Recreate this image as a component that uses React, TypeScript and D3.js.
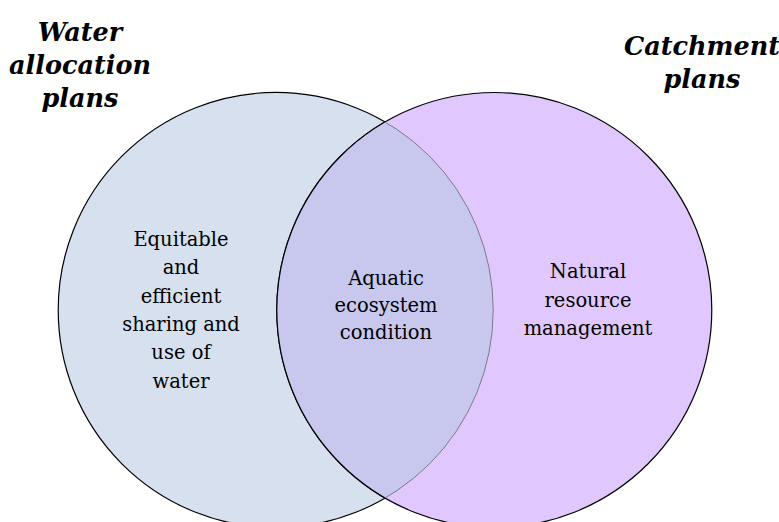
import React from 'react'
import * as d3 from 'd3'

// set titles and region texts
const leftTitle = ['Water', 'allocation', 'plans']
const rightTitle = ['Catchment', 'plans']
const leftOnly = ['Equitable', 'and', 'efficient', 'sharing and', 'use of', 'water']
const overlap = ['Aquatic', 'ecosystem', 'condition']
const rightOnly = ['Natural', 'resource', 'management']

const W = 779
const H = 522

// centres sit on one axis, distance between them in units of radius
const SEP = 1.005
const R = 217.5
const CY = 310
const MID = 385

const COL_LEFT = '#d6e0ef'
const COL_RIGHT = '#e0c8fe'
const COL_BOTH = '#c8c8ee'

const FONT = '"DejaVu Serif", serif'

function Lines({ lines, x, y, step, size, bold = false }: any) {
  return (
    <text
      x={x}
      y={y}
      textAnchor="middle"
      fontFamily={FONT}
      fontSize={size}
      fontWeight={bold ? 'bold' : 'normal'}
      fontStyle={bold ? 'italic' : 'normal'}
      fill="#000"
    >
      {lines.map((l: string, i: number) => (
        <tspan key={i} x={x} y={y + i * step}>{l}</tspan>
      ))}
    </text>
  )
}

export default function App() {
  const x = d3.scaleLinear().domain([-1, 1]).range([MID - R, MID + R])
  const cxL = x(-SEP / 2)
  const cxR = x(SEP / 2)
  const circle = (cx: number) => {
    const p = d3.path()
    p.arc(cx, CY, R, 0, Math.PI * 2)
    p.closePath()
    return p.toString()
  }
  const pL = circle(cxL)
  const pR = circle(cxR)

  return (
    <svg width={W} height={H} style={{ position: 'absolute', left: 0, top: 0, background: '#fff' }}>
      <defs>
        <clipPath id="clipL"><path d={pL} /></clipPath>
        <clipPath id="clipR"><path d={pR} /></clipPath>
      </defs>
      <path d={pL} fill={COL_LEFT} stroke="#000" strokeWidth={1.2} />
      <path d={pR} fill={COL_RIGHT} stroke="#000" strokeWidth={1.2} />
      <g clipPath="url(#clipL)">
        <path d={pR} fill={COL_BOTH} stroke="#000" strokeWidth={1.2} />
      </g>
      <g clipPath="url(#clipR)">
        <path d={pL} fill="none" stroke="#7a7a8a" strokeWidth={1} />
      </g>

      <Lines lines={leftTitle} x={80} y={41} step={33} size={25.5} bold />
      <Lines lines={rightTitle} x={702} y={55} step={33} size={25.5} bold />

      <Lines lines={leftOnly} x={181} y={246} step={28.3} size={19.5} />
      <Lines lines={overlap} x={386} y={285} step={27} size={19.5} />
      <Lines lines={rightOnly} x={588} y={278} step={28.5} size={19.5} />
    </svg>
  )
}
